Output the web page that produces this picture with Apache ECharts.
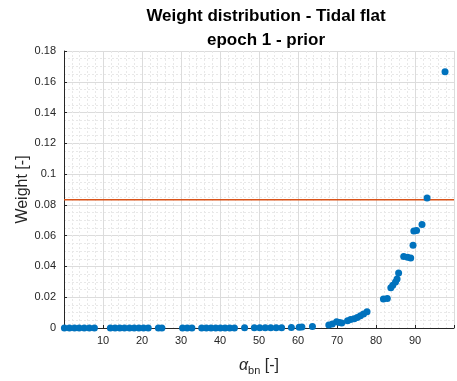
<!DOCTYPE html>
<html>
<head>
<meta charset="utf-8">
<script src="https://cdn.jsdelivr.net/npm/echarts@6/dist/echarts.min.js"></script>
<style>html,body{margin:0;padding:0;background:#fff;}#c{width:457px;height:381px;}</style>
</head>
<body>
<div id="c"></div>
<script>
// ---- data ----
const alphaValues = [
  0.1, 1.4, 2.7, 3.9, 5.2, 6.5, 7.8,
  11.9, 13.1, 14.3, 15.5, 16.8, 18.0, 19.2, 20.4, 21.6,
  24.2, 25.1,
  30.4, 31.6, 32.8,
  35.3, 36.5, 37.7, 38.9, 40.1, 41.3, 42.5, 43.7,
  46.3,
  48.8, 50.2, 51.6, 53.0, 54.4, 55.8,
  58.3, 60.3, 61.0, 63.7,
  67.9, 68.8, 69.9, 70.6, 71.2,
  72.7, 73.5, 74.4, 75.2, 76.0, 76.8, 77.7,
  81.9, 82.9,
  83.8, 84.3, 85.0, 85.4, 85.8,
  87.1, 88.1, 88.9,
  89.5, 89.7, 90.4,
  91.8, 93.1, 97.7
];
const weightValues = [
  0, 0, 0, 0, 0, 0, 0,
  0, 0, 0, 0, 0, 0, 0, 0, 0,
  0, 0,
  0, 0, 0,
  0, 0, 0, 0, 0, 0, 0, 0,
  0.0001,
  0.0001, 0.0001, 0.0001, 0.0001, 0.0002, 0.0002,
  0.0003, 0.0005, 0.0006, 0.0009,
  0.0020, 0.0026, 0.0040, 0.0036, 0.0033,
  0.0047, 0.0055, 0.0060, 0.0068, 0.0079, 0.0091, 0.0106,
  0.0188, 0.0192,
  0.0262, 0.0277, 0.0299, 0.0318, 0.0357,
  0.0464, 0.0459, 0.0455,
  0.0538, 0.0630, 0.0634,
  0.0672, 0.0845, 0.1665
];
const priorLevel = 0.0833;
const priorRange = [0, 100];
const yTickLabels = ['0','0.02','0.04','0.06','0.08','0.1','0.12','0.14','0.16','0.18'];
const xTickLabels = ['10','20','30','40','50','60','70','80','90'];
const titleLines = ['Weight distribution - Tidal flat', 'epoch 1 - prior'];

// ---- chart ----
const points = alphaValues.map((a, i) => [a, weightValues[i]]);
const priorLine = priorRange.map(a => [a, priorLevel]);
const FONT = 'Liberation Sans, Arial, Helvetica, sans-serif';
const chart = echarts.init(document.getElementById('c'), null, {renderer: 'canvas'});
chart.setOption({
  backgroundColor: '#ffffff',
  animation: false,
  title: [
    {text: titleLines[0], left: 261, top: 3, textAlign: 'center',
     textStyle: {fontFamily: FONT, fontSize: 17, fontWeight: 'bold', color: '#000'}},
    {text: titleLines[1], left: 261, top: 27, textAlign: 'center',
     textStyle: {fontFamily: FONT, fontSize: 17, fontWeight: 'bold', color: '#000'}}
  ],
  grid: {left: 64, right: -7, top: 51, bottom: 48, containLabel: false},
  xAxis: {
    type: 'value', min: 0, max: 100, interval: 10,
    axisLine: {show: true, onZero: false, lineStyle: {color: '#262626', width: 1}},
    axisTick: {show: true, inside: true, length: 3, lineStyle: {color: '#262626'}},
    axisLabel: {fontFamily: FONT, fontSize: 11, color: '#262626', margin: 7,
      formatter: v => { const s = String(Math.round(v)); return xTickLabels.indexOf(s) >= 0 ? s : ''; }},
    splitLine: {show: true, lineStyle: {color: '#dcdcdc', width: 1}},
    minorTick: {show: false, splitNumber: 5},
    minorSplitLine: {show: true, lineStyle: {color: '#e8e8e8', width: 1, type: [2, 2]}},
    name: '{a|α}{s|bn}{b| [-]}',
    nameLocation: 'middle', nameGap: 27, nameMoveOverlap: false,
    nameTextStyle: {
      fontFamily: FONT, color: '#262626',
      rich: {
        a: {fontFamily: FONT, fontSize: 16, color: '#262626', fontStyle: 'italic'},
        s: {fontFamily: FONT, fontSize: 11, color: '#262626', verticalAlign: 'bottom', padding: [10, 0, 0, 0]},
        b: {fontFamily: FONT, fontSize: 16, color: '#262626'}
      }
    }
  },
  yAxis: {
    type: 'value', min: 0, max: 0.18, interval: 0.02,
    axisLine: {show: true, lineStyle: {color: '#262626', width: 1}},
    axisTick: {show: true, inside: true, length: 3, lineStyle: {color: '#262626'}},
    axisLabel: {fontFamily: FONT, fontSize: 11, color: '#262626', margin: 8,
      formatter: v => yTickLabels[Math.round(v / 0.02)] || ''},
    splitLine: {show: true, lineStyle: {color: '#dcdcdc', width: 1}},
    minorTick: {show: false, splitNumber: 4},
    minorSplitLine: {show: true, lineStyle: {color: '#e8e8e8', width: 1, type: [2, 2]}},
    name: 'Weight [-]', nameLocation: 'middle', nameGap: 33, nameMoveOverlap: false,
    nameTextStyle: {fontFamily: FONT, fontSize: 16, color: '#262626'}
  },
  series: [
    {
      type: 'line', data: priorLine, showSymbol: false, symbol: 'none',
      lineStyle: {color: '#D95319', width: 1.6}, z: 2, clip: false, silent: true
    },
    {
      type: 'scatter', data: points, symbol: 'circle', symbolSize: 7,
      itemStyle: {color: '#0072BD', opacity: 1}, z: 3, clip: false
    }
  ]
});
</script>
</body>
</html>
